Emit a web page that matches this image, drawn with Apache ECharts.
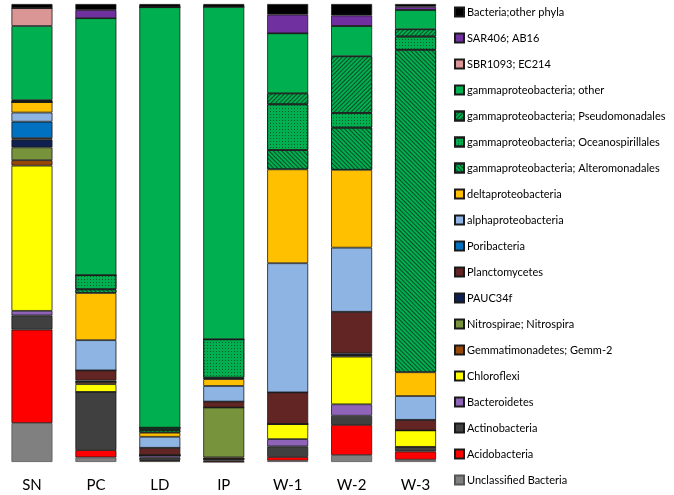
<!DOCTYPE html>
<html><head><meta charset="utf-8">
<script src="https://cdn.jsdelivr.net/npm/echarts@6/dist/echarts.min.js"></script>
<style>html,body{margin:0;padding:0;background:#fff}#c{width:674px;height:495px}</style>
</head><body><div id="c"></div>
<script>
// categories
const categories = ['SN','PC','LD','IP','W-1','W-2','W-3'];
// series values (% of sequences), bottom of stack first
const unclassified     = [8.5, 1.0, 0.2, 0,    0.3, 1.5, 0.5];
const acidobacteria    = [20.4,1.6, 0.2, 0.3,  0.8, 6.6, 1.8];
const actinobacteria   = [3.1, 12.7,0.6, 0.4,  2.3, 2.0, 1.0];
const bacteroidetes    = [1.0, 0,   0.5, 0,    1.6, 2.5, 0];
const chloroflexi      = [31.7,1.7, 0,   0,    3.3, 10.4,3.6];
const gemm2            = [1.2, 0.5, 0,   0.3,  0,   0.3, 0];
const nitrospira       = [2.8, 0,   0,   10.9, 0,   0,   0];
const pauc34f          = [1.7, 0.3, 0,   0,    0,   0.4, 0];
const planctomycetes   = [0.3, 2.2, 1.6, 1.3,  6.9, 9.1, 2.3];
const poribacteria     = [3.6, 0,   0,   0,    0,   0,   0];
const alphaproteo      = [2.0, 6.6, 2.4, 3.4,  28.2,14.0,5.2];
const deltaproteo      = [2.3, 10.3,0.9, 1.5,  20.5,17.0,5.2];
const gammaAltero      = [0,   0.8, 0.6, 0.3,  4.2, 9.2, 70.4];
const gammaOceano      = [0.2, 3.1, 0.5, 8.4,  10.0,3.2, 2.9];
const gammaPseudo      = [0.2, 0,   0,   0,    2.4, 12.4,1.6];
const gammaOther       = [16.2,56.1,91.8,72.6, 13.1,6.6, 4.2];
const sbr1093          = [3.9, 0,   0,   0,    0,   0,   0];
const sar406           = [0,   1.8, 0,   0,    4.1, 2.3, 0.7];
const otherPhyla       = [0.9, 1.3, 0.7, 0.6,  2.3, 2.5, 0.6];

const seriesDefs = [
  ['Unclassified Bacteria', unclassified, '#808080'],
  ['Acidobacteria', acidobacteria, '#FF0000'],
  ['Actinobacteria', actinobacteria, '#404040'],
  ['Bacteroidetes', bacteroidetes, '#8E63B8'],
  ['Chloroflexi', chloroflexi, '#FFFF00'],
  ['Gemmatimonadetes; Gemm-2', gemm2, '#984807'],
  ['Nitrospirae; Nitrospira', nitrospira, '#77933C'],
  ['PAUC34f', pauc34f, '#0F2050'],
  ['Planctomycetes', planctomycetes, '#632523'],
  ['Poribacteria', poribacteria, '#0070C0'],
  ['alphaproteobacteria', alphaproteo, '#8EB4E3'],
  ['deltaproteobacteria', deltaproteo, '#FFC000'],
  ['gammaproteobacteria; Alteromonadales', gammaAltero, '#00B050', 'hatchB'],
  ['gammaproteobacteria; Oceanospirillales', gammaOceano, '#00B050', 'dots'],
  ['gammaproteobacteria; Pseudomonadales', gammaPseudo, '#00B050', 'hatchF'],
  ['gammaproteobacteria; other', gammaOther, '#00B050'],
  ['SBR1093; EC214', sbr1093, '#D99694'],
  ['SAR406; AB16', sar406, '#7030A0'],
  ['Bacteria;other phyla', otherPhyla, '#000000']
];

const decals = {
  hatchF: {symbol:'rect', symbolSize:1, dashArrayX:[1,0], dashArrayY:[1,2], rotation:-Math.PI/4, color:'#0a4a26'},
  hatchB: {symbol:'rect', symbolSize:1, dashArrayX:[1,0], dashArrayY:[1,2], rotation:Math.PI/4, color:'#0a4a26'},
  dots: {symbol:'rect', symbolSize:1, dashArrayX:[1,2], dashArrayY:[1,2], color:'#0a5a2c'}
};

const series = seriesDefs.map(d => {
  const st = {color: d[2], borderColor: d[0]==='Unclassified Bacteria' ? '#555' : '#1a1a1a', borderWidth: 0.8};
  if (d[3]) st.decal = decals[d[3]];
  return {name: d[0], type: 'bar', stack: 'a', barWidth: 41, data: d[1], itemStyle: st};
});

const chart = echarts.init(document.getElementById('c'), null, {renderer: 'canvas'});
chart.setOption({
  animation: false,
  grid: {left: -8.3, top: 4, width: 455.8, height: 458, containLabel: false},
  xAxis: {type: 'category', data: categories, axisLine: {show: false}, axisTick: {show: false},
    axisLabel: {fontSize: 15, color: '#000', fontFamily: 'Lato', margin: 16}},
  yAxis: {type: 'value', min: 0, max: 100, show: false},
  legend: {orient: 'vertical', left: 449, top: 0, height: 495, padding: [5, 0, 0, 5], itemWidth: 9, itemHeight: 9, itemGap: 12,
    icon: 'rect', data: seriesDefs.map(d => d[0]).reverse(),
    textStyle: {fontSize: 11, color: '#000', fontFamily: 'Lato', lineHeight: 14, padding: [0,0,0,-2]}},
  series: series
});
</script></body></html>
